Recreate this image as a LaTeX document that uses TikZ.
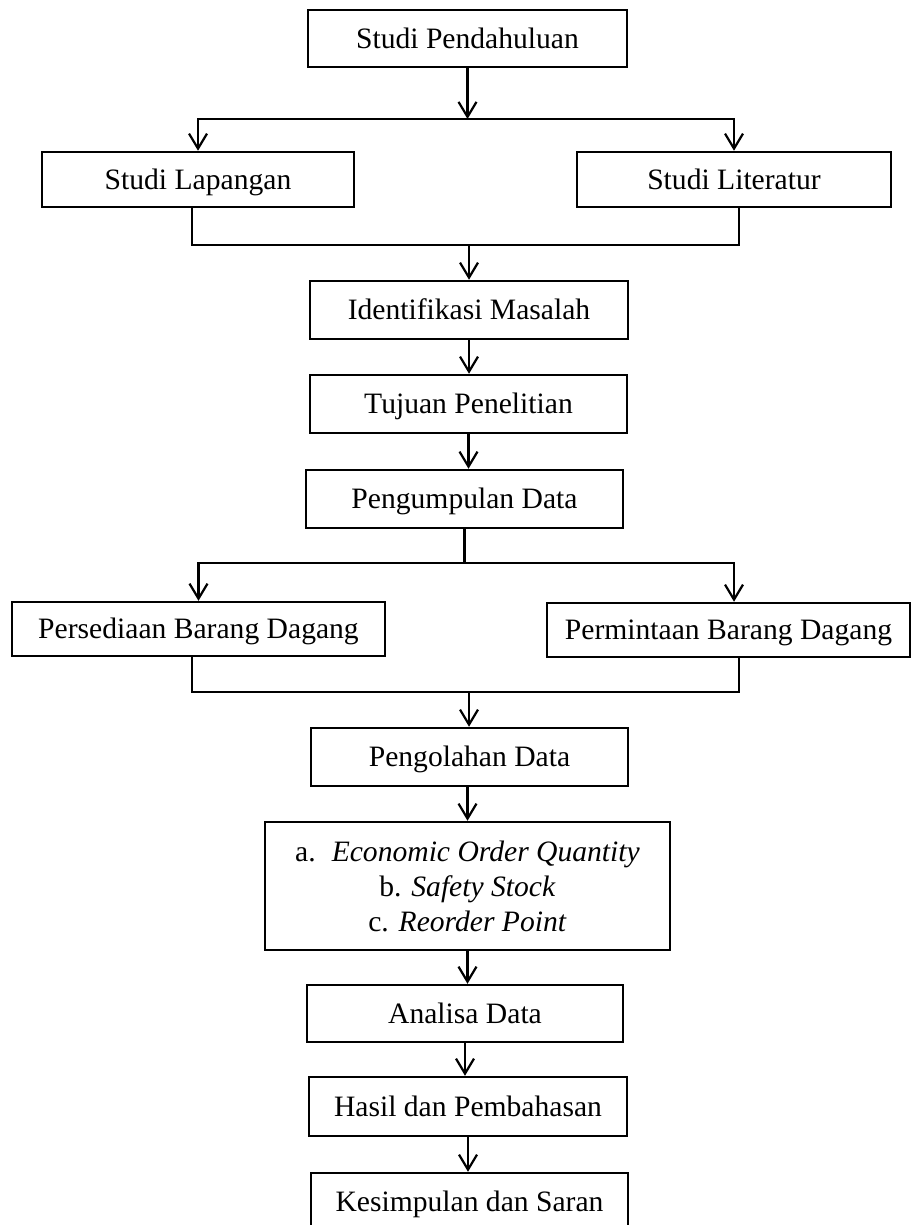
\documentclass[tikz,border=0pt]{standalone}
\usepackage{fontspec}
\setmainfont{Liberation Serif}
\usetikzlibrary{arrows.meta}
\begin{document}
\begin{tikzpicture}[x=1pt,y=-1pt,
  box/.style={draw, line width=2.5pt, inner sep=0pt, text height=19.6pt, text depth=0pt,
    font=\fontsize{29.6}{35}\selectfont},
  mbox/.style={draw, line width=2.5pt, inner sep=0pt, align=center,
    font=\fontsize{29.6}{35}\selectfont},
  conn/.style={line width=2.2pt},
  arr/.style={line width=2.2pt, -{Straight Barb[length=15pt,width=18pt]}}]
\useasboundingbox (0,0) rectangle (912,1225);
\clip (0,0) rectangle (912,1225);
\fill[white] (0,0) rectangle (912,1225);

\node[box, minimum width=319pt, minimum height=57pt] (SP) at (467.5,38.5) {Studi Pendahuluan};
\node[box, minimum width=312pt, minimum height=55pt] (SL) at (198,179.5) {Studi Lapangan};
\node[box, minimum width=314pt, minimum height=55pt] (SLit) at (734,179.5) {Studi Literatur};
\node[box, minimum width=318pt, minimum height=58pt] (IM) at (469,310) {Identifikasi Masalah};
\node[box, minimum width=317pt, minimum height=58pt] (TP) at (468.5,404) {Tujuan Penelitian};
\node[box, minimum width=317pt, minimum height=58pt] (PD) at (464.5,499) {Pengumpulan Data};
\node[box, minimum width=373pt, minimum height=54pt] (PBD) at (198.5,629) {Persediaan Barang Dagang};
\node[box, minimum width=363pt, minimum height=54pt] (PmBD) at (728.5,630) {Permintaan Barang Dagang};
\node[box, minimum width=317pt, minimum height=58pt] (PgD) at (469.5,757) {Pengolahan Data};
\node[mbox, minimum width=405pt, minimum height=128pt] (EOQ) at (467.5,886)
  {a.\hspace{16pt}\textit{Economic Order Quantity}\\ b. \textit{Safety Stock}\\ c. \textit{Reorder Point}};
\node[box, minimum width=316pt, minimum height=57pt] (AD) at (465,1013.5) {Analisa Data};
\node[box, minimum width=318pt, minimum height=59pt] (HP) at (468,1106.5) {Hasil dan Pembahasan};
\node[box, minimum width=317pt, minimum height=58pt] (KS) at (469.5,1202) {Kesimpulan dan Saran};

% branch 1
\coordinate (j1) at (467.5,119);
\draw[arr] (SP.south) -- (j1);
\draw[arr] (j1) -| (SL.north);
\draw[arr] (j1) -| (SLit.north);

% join 1
\coordinate (m1) at (469,245);
\draw[conn] ([xshift=-6pt]SL.south) |- (m1) -| ([xshift=5pt]SLit.south);
\draw[arr] (m1) -- (m1 |- IM.north);

\draw[arr] (IM.south) -- (IM.south |- TP.north);
\draw[arr] (TP.south) -- (TP.south |- PD.north);

% branch 2
\coordinate (j2) at (464.5,563);
\draw[conn] (PD.south) -- (j2);
\draw[arr] (j2) -| (PBD.north);
\draw[arr] (j2) -| ([xshift=5.5pt]PmBD.north);

% join 2
\coordinate (m2) at (469,692);
\draw[conn] ([xshift=-6.5pt]PBD.south) |- (m2) -| ([xshift=10.5pt]PmBD.south);
\draw[arr] (m2) -- (m2 |- PgD.north);

\draw[arr] (PgD.south -| EOQ.north) -- (EOQ.north);
\draw[arr] (EOQ.south) -- (EOQ.south |- AD.north);
\draw[arr] (AD.south) -- (AD.south |- HP.north);
\draw[arr] (HP.south) -- (HP.south |- KS.north);
\end{tikzpicture}
\end{document}
